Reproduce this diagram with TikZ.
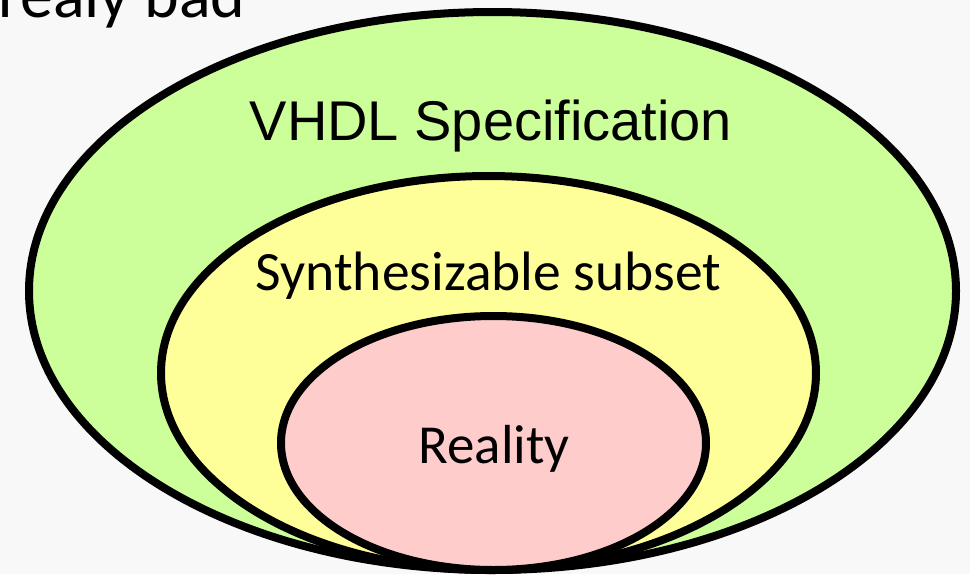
\documentclass[tikz,border=0pt]{standalone}
\usepackage{fontspec}
\setmainfont{Carlito}
\newfontfamily\arialfont{Liberation Sans}
\definecolor{bgpaper}{HTML}{F8F8F8}
\definecolor{specgreen}{HTML}{CCFF99}
\definecolor{synthyellow}{HTML}{FFFF99}
\definecolor{realpink}{HTML}{FFCCCC}
\begin{document}
\begin{tikzpicture}[x=1pt,y=-1pt,
  setring/.style={draw=black, line width=8pt},
  setlabel/.style={anchor=base, inner sep=0pt, text=black}]
  % page area and paper tone
  \useasboundingbox (0,0) rectangle (970,574);
  \fill[bgpaper] (0,0) rectangle (970,574);

  % leftover line of slide text, clipped by the top edge
  \begin{scope}
    \clip (0,0) rectangle (970,574);
    \node[anchor=base west, inner sep=0pt] (caption) at (-2,17)
      {\fontsize{66}{72}\selectfont realy bad};
  \end{scope}

  % nested sets, all touching at the bottom
  \draw[setring, fill=specgreen]   (492.5,291) ellipse [x radius=463.5pt, y radius=279pt];
  \draw[setring, fill=synthyellow] (488.5,373) ellipse [x radius=327.5pt, y radius=197pt];
  \draw[setring, fill=realpink]    (493.5,443) ellipse [x radius=212.5pt, y radius=127pt];

  % set names
  \node[setlabel] (vhdl) at (491,140)
    {\arialfont\fontsize{56}{60}\selectfont VHDL Specification};
  \node[setlabel] (synth) at (488.5,290)
    {\fontsize{55.5}{60}\selectfont Synthesizable subset};
  \node[setlabel] (reality) at (494,463)
    {\fontsize{55}{60}\selectfont Reality};
\end{tikzpicture}
\end{document}
